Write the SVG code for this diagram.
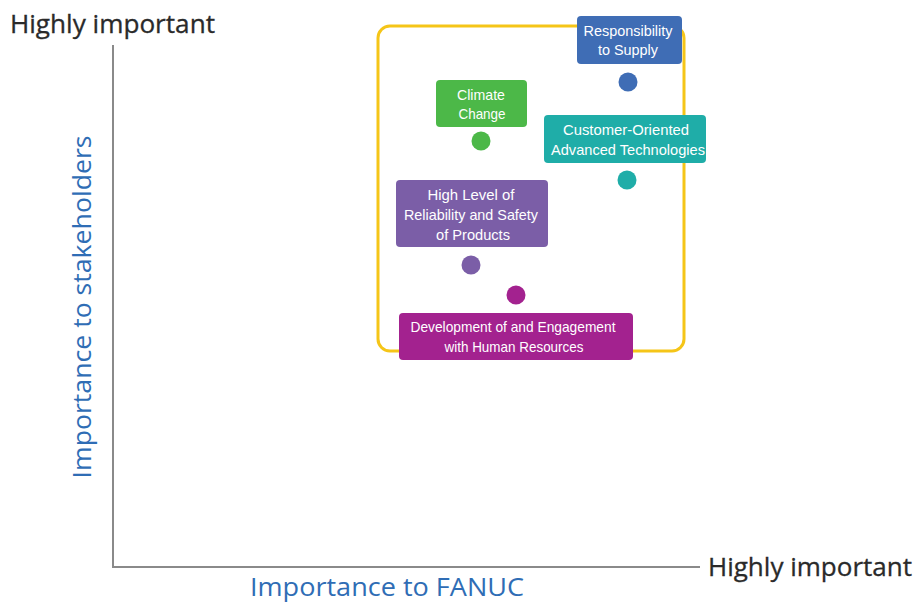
<svg xmlns="http://www.w3.org/2000/svg" width="915" height="603" viewBox="0 0 915 603">
<style>
.axis{stroke:#8a8a8a;stroke-width:2;fill:none}
.hi{font-family:"Open Sans","Liberation Sans",sans-serif;font-size:25px;fill:#2a2a2a;stroke:#2a2a2a;stroke-width:0.3}
.ax{font-family:"Open Sans","Liberation Sans",sans-serif;font-size:25px;fill:#2f6db5}
.lbl{font-family:"Liberation Sans",Arial,sans-serif;font-size:15px;fill:#fff;text-anchor:middle}
</style>
<rect width="915" height="603" fill="#fff"/>
<g id="axes">
<path class="axis" d="M113 45 V567 H700"/>
<text class="hi" x="10" y="33" textLength="205" lengthAdjust="spacingAndGlyphs">Highly important</text>
<text class="hi" x="708" y="576" textLength="204" lengthAdjust="spacingAndGlyphs">Highly important</text>
<text class="ax" x="250" y="596" textLength="274" lengthAdjust="spacingAndGlyphs">Importance to FANUC</text>
<text class="ax" transform="translate(91 307) rotate(-90)" text-anchor="middle" textLength="343" lengthAdjust="spacingAndGlyphs">Importance to stakeholders</text>
</g>
<g id="frame">
<rect x="378" y="26" width="306" height="325" rx="12" fill="none" stroke="#f5c518" stroke-width="3"/>
</g>
<g id="supply">
<rect x="577" y="16" width="105" height="48" rx="4" fill="#3f6db5"/>
<text class="lbl" x="628" y="36" textLength="89" lengthAdjust="spacingAndGlyphs">Responsibility</text>
<text class="lbl" x="628" y="55" textLength="60" lengthAdjust="spacingAndGlyphs">to Supply</text>
<circle cx="628" cy="82" r="9.5" fill="#3f6db5"/>
</g>
<g id="climate">
<rect x="436" y="80" width="91" height="47" rx="4" fill="#4cb848"/>
<text class="lbl" x="481" y="100" textLength="48" lengthAdjust="spacingAndGlyphs">Climate</text>
<text class="lbl" x="482" y="119" textLength="47" lengthAdjust="spacingAndGlyphs">Change</text>
<circle cx="481" cy="141" r="9.5" fill="#4cb848"/>
</g>
<g id="customer">
<rect x="544" y="115" width="162" height="48" rx="4" fill="#1fada8"/>
<text class="lbl" x="626" y="135" textLength="126" lengthAdjust="spacingAndGlyphs">Customer-Oriented</text>
<text class="lbl" x="628" y="155" textLength="154" lengthAdjust="spacingAndGlyphs">Advanced Technologies</text>
<circle cx="627" cy="180" r="9.5" fill="#1fada8"/>
</g>
<g id="reliability">
<rect x="396" y="180" width="152" height="67" rx="4" fill="#7b5ea7"/>
<text class="lbl" x="471" y="200" textLength="87" lengthAdjust="spacingAndGlyphs">High Level of</text>
<text class="lbl" x="471" y="220" textLength="134" lengthAdjust="spacingAndGlyphs">Reliability and Safety</text>
<text class="lbl" x="473" y="240" textLength="74" lengthAdjust="spacingAndGlyphs">of Products</text>
<circle cx="471" cy="265" r="9.5" fill="#7b5ea7"/>
</g>
<g id="human">
<circle cx="516" cy="295" r="9.5" fill="#a3228f"/>
<rect x="399" y="313" width="234" height="47" rx="4" fill="#a3228f"/>
<text class="lbl" x="513" y="332" textLength="205" lengthAdjust="spacingAndGlyphs">Development of and Engagement</text>
<text class="lbl" x="514" y="352" textLength="139" lengthAdjust="spacingAndGlyphs">with Human Resources</text>
</g>
</svg>
